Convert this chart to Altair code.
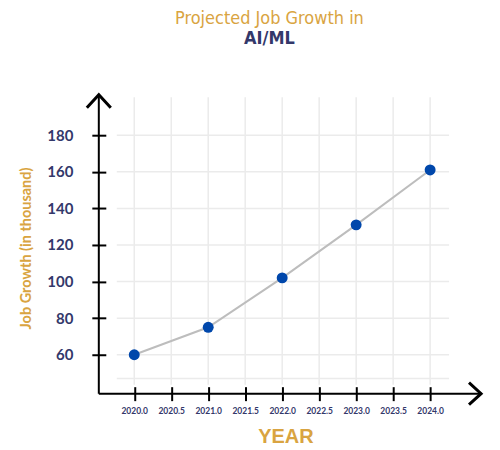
import altair as alt
import pandas as pd

# values
years = [2020, 2021, 2022, 2023, 2024]
growth = [60, 75, 102, 131, 161]
y_ticks = [60, 80, 100, 120, 140, 160, 180]
y_grid = [47, 60, 80, 100, 120, 140, 160, 180]
x_ticks = [2020.0, 2020.5, 2021.0, 2021.5, 2022.0, 2022.5, 2023.0, 2023.5, 2024.0]

GOLD = "#d9a441"
NAVY = "#33386a"
W, H = 384, 300
NARROW = "DejaVu Sans Condensed, Liberation Sans Narrow, Liberation Sans, sans-serif"

df = pd.DataFrame({"year": years, "growth": growth})
xs = alt.Scale(domain=[2019.521, 2024.7015], nice=False, zero=False)
ys = alt.Scale(domain=[38.73, 202.36], nice=False, zero=False)

x_axis = alt.Axis(
    values=x_ticks, format=".1f", grid=False, domain=False, offset=-7,
    tickSize=14, tickWidth=2, tickColor="black", labelPadding=6,
    labelFont="Lato", labelFontSize=8.5, labelFontWeight="bold", labelColor=NAVY,
    labelBaseline="top", title="YEAR", titleFont="Liberation Sans",
    titleFontSize=20, titleFontWeight="bold", titleColor=GOLD,
    titleX=187, titleY=50, titleBaseline="middle", titleAlign="center",
)
y_axis = alt.Axis(
    values=y_ticks, grid=False, domain=False, offset=-7,
    tickSize=14, tickWidth=2, tickColor="black", labelPadding=19,
    labelFont="Lato", labelFontSize=15, labelFontWeight="bold", labelColor=NAVY,
    title="Job Growth (in thousand)", titleFont="Lato", titleFontSize=14.5,
    titleFontWeight="bold", titleColor=GOLD, titleAngle=270,
    titleX=-79, titleY=154, titleBaseline="middle", titleAlign="center",
)

# light grid, inset from the hand-drawn axes
hgrid = (
    alt.Chart(pd.DataFrame({"v": y_grid}))
    .mark_rule(color="#ebebeb", strokeWidth=1.5)
    .encode(y=alt.Y("v:Q", scale=ys, axis=y_axis), x=alt.value(18), x2=alt.value(351))
)
vgrid = (
    alt.Chart(pd.DataFrame({"v": x_ticks}))
    .mark_rule(color="#ebebeb", strokeWidth=1.5)
    .encode(x=alt.X("v:Q", scale=xs, axis=x_axis), y=alt.value(3), y2=alt.value(291))
)

# black axis lines with arrow heads
yline = alt.Chart().mark_rule(color="black", strokeWidth=2).encode(
    x=alt.value(0), y=alt.value(0), y2=alt.value(H)
)
xline = alt.Chart().mark_rule(color="black", strokeWidth=2).encode(
    x=alt.value(0), x2=alt.value(W), y=alt.value(H)
)
up_arrow = alt.Chart().mark_point(
    shape="M-1,0.55L0,-0.55L1,0.55", filled=False, color="black",
    strokeWidth=3, size=576, opacity=1, strokeJoin="miter",
).encode(x=alt.value(0), y=alt.value(7))
right_arrow = alt.Chart().mark_point(
    shape="M-0.55,-1L0.55,0L-0.55,1", filled=False, color="black",
    strokeWidth=3, size=484, opacity=1, strokeJoin="miter",
).encode(x=alt.value(W - 7), y=alt.value(H))

line = alt.Chart(df).mark_line(color="#bdbdbd", strokeWidth=2).encode(
    x=alt.X("year:Q", scale=xs, axis=x_axis),
    y=alt.Y("growth:Q", scale=ys, axis=y_axis),
)
points = alt.Chart(df).mark_circle(color="#0047ab", size=120, opacity=1).encode(
    x=alt.X("year:Q", scale=xs, axis=x_axis),
    y=alt.Y("growth:Q", scale=ys, axis=y_axis),
)

chart = (
    alt.layer(hgrid, vgrid, line, points, yline, xline, up_arrow, right_arrow)
    .properties(
        width=W,
        height=H,
        autosize=alt.AutoSizeParams(type="none"),
        padding={"left": 91, "top": 86, "right": 10, "bottom": 60},
        title=alt.Title(
            "Projected Job Growth in",
            subtitle="AI/ML",
            font=NARROW,
            fontSize=18,
            fontWeight="normal",
            color=GOLD,
            subtitleFont=NARROW,
            subtitleFontSize=18,
            subtitleFontWeight="bold",
            subtitleColor=NAVY,
            subtitlePadding=2,
            anchor="middle",
            dx=-21,
            offset=41,
        ),
    )
    .configure_view(stroke=None)
)

chart.save("out.html", embed_options={"renderer": "svg", "actions": False})
